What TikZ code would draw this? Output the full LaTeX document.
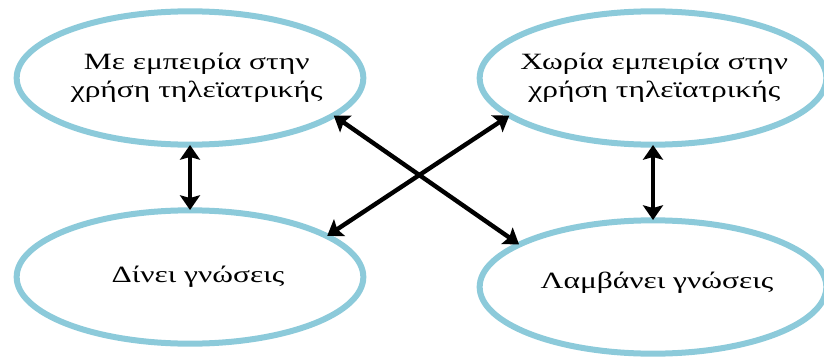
\documentclass[tikz,border=0pt]{standalone}
\usepackage{fontspec}
\setmainfont{Liberation Serif}
\newfontfamily\widefont[FakeStretch=1.35]{Liberation Serif}
\usetikzlibrary{shapes.geometric,arrows.meta}

\definecolor{ovalblue}{RGB}{140,202,218}

\tikzset{
    oval/.style={ellipse, draw=ovalblue, line width=4.5pt,
        minimum width=260pt, minimum height=100pt},
    caption/.style={align=center, font=\widefont\fontsize{17.5}{21}\selectfont},
    link/.style={{Stealth[length=11pt,width=15pt,inset=2pt]}-{Stealth[length=11pt,width=15pt,inset=2pt]},
        line width=3.3pt, shorten <=-2pt, shorten >=-2pt}
}

\begin{document}
\begin{tikzpicture}[x=0.75pt, y=-0.75pt]
    \useasboundingbox (0,0) rectangle (824,360);

    % Ovals
    \node[oval] (tl) at (190,78) {};
    \node[oval] (tr) at (653,78) {};
    \node[oval] (bl) at (190,277) {};
    \node[oval] (br) at (653,287) {};

    % Texts
    \node[caption, xshift=5pt] (tltext) at (tl) {Με εμπειρία στην\\χρήση τηλεϊατρικής};
    \node[caption, xshift=1pt] (trtext) at (tr) {Χωρία εμπειρία στην\\χρήση τηλεϊατρικής};
    \node[caption, xshift=6pt] (bltext) at (bl) {Δίνει γνώσεις};
    \node[caption, xshift=3pt, yshift=3pt] (brtext) at (br) {Λαμβάνει γνώσεις};

    % Arrows
    \draw[link] (tl.south) -- (bl.north);
    \draw[link] (tr.south) -- (br.north);
    \draw[link] (tl.-15) -- (br.162);
    \draw[link] (bl.17) -- (tr.195);
\end{tikzpicture}
\end{document}
